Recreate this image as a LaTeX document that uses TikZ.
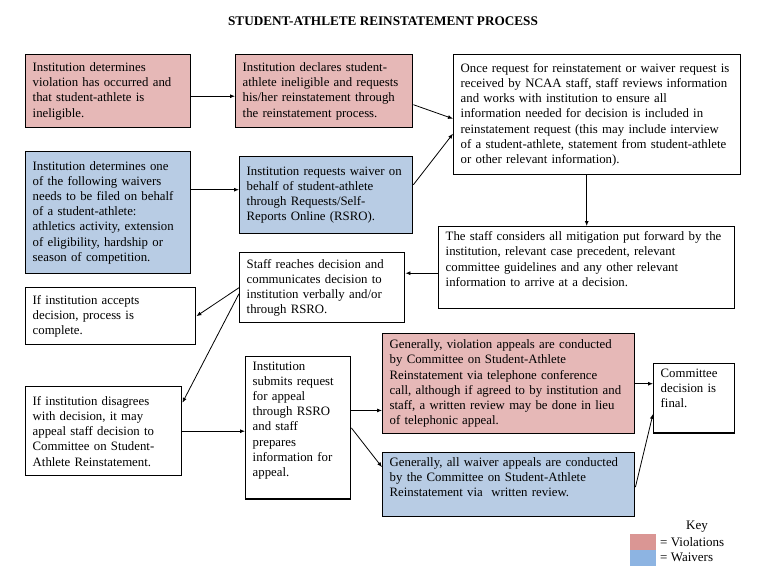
\documentclass[tikz,border=0pt]{standalone}
\usepackage{fontspec}
\setmainfont{Liberation Serif}
\usepackage{xcolor}
\usepackage{tikz}
\usetikzlibrary{arrows.meta,calc}
\definecolor{ViolPink}{HTML}{E6B8B7}
\definecolor{WaivBlue}{HTML}{B8CCE4}
\definecolor{KeyPink}{HTML}{DA9694}
\definecolor{KeyBlue}{HTML}{8DB4E2}

\begin{document}
\begin{tikzpicture}[
  x=1pt, y=-1pt,
  box/.style={draw=black, line width=1.4pt, anchor=north west, align=left, inner xsep=7pt, inner ysep=5pt,
    font=\fontsize{12.8}{15.2}\selectfont},
  viol/.style={box, fill=ViolPink},
  waiv/.style={box, fill=WaivBlue},
  plain/.style={box, fill=white},
  keytext/.style={anchor=west, inner sep=1pt, font=\fontsize{13}{14}\selectfont},
  arrow/.style={-{Latex[length=5pt, width=4pt]}, line width=0.8pt, draw=black}
]
\useasboundingbox (0,0) rectangle (768,586);
\node[font=\bfseries\fontsize{13.2}{15}\selectfont] (title) at (383,21) {STUDENT-ATHLETE REINSTATEMENT PROCESS};
% violations and waivers
\node[viol, text width=151pt, minimum height=73pt] (viol1) at (25,54) {Institution determines\\violation has occurred and\\that student-athlete is\\ineligible.};
\node[viol, text width=163pt, minimum height=73pt] (viol2) at (235,54) {Institution declares student-\\athlete ineligible and requests\\his/her reinstatement through\\the reinstatement process.};
\node[waiv, text width=151pt, minimum height=122pt] (waiv1) at (25,151) {Institution determines one\\of the following waivers\\needs to be filed on behalf\\of a student-athlete:\\athletics activity, extension\\of eligibility, hardship or\\season of competition.};
\node[waiv, text width=159pt, minimum height=77pt] (waiv2) at (239,156) {Institution requests waiver on\\behalf of student-athlete\\through Requests/Self-\\Reports Online (RSRO).};
% staff review
\node[plain, text width=273pt, minimum height=120pt] (ncaa) at (453,54) {Once request for reinstatement or waiver request is\\received by NCAA staff, staff reviews information\\and works with institution to ensure all\\information needed for decision is included in\\reinstatement request (this may include interview\\of a student-athlete, statement from student-athlete\\or other relevant information).};
\node[plain, text width=282pt, text depth=63pt] (staffcons) at (438,226) {The staff considers all mitigation put forward by the\\institution, relevant case precedent, relevant\\committee guidelines and any other relevant\\information to arrive at a decision.};
\node[plain, text width=151pt, minimum height=70pt] (staffreach) at (239,252) {Staff reaches decision and\\communicates decision to\\institution verbally and/or\\through RSRO.};
% decision outcomes
\node[plain, text width=156pt, minimum height=57pt] (accept) at (25,287) {If institution accepts\\decision, process is\\complete.};
\node[plain, text width=142pt, minimum height=89pt] (disagree) at (25,386) {If institution disagrees\\with decision, it may\\appeal staff decision to\\Committee on Student-\\Athlete Reinstatement.};
\node[plain, text width=91pt, text depth=124pt] (submit) at (245,356) {Institution\\submits request\\for appeal\\through RSRO\\and staff\\prepares\\information for\\appeal.};
% appeals
\node[viol, text width=238pt, minimum height=100pt] (violappeal) at (382,333) {Generally, violation appeals are conducted\\by Committee on Student-Athlete\\Reinstatement via telephone conference\\call, although if agreed to by institution and\\staff, a written review may be done in lieu\\of telephonic appeal.};
\node[waiv, text width=238pt, text depth=45pt] (waivappeal) at (382,452) {Generally, all waiver appeals are conducted\\by the Committee on Student-Athlete\\Reinstatement via\ \ written review.};
\node[plain, text width=67pt, text depth=51pt] (final) at (653,363) {Committee\\decision is\\final.};
% key
\node[font=\fontsize{13}{14}\selectfont] (key) at (697,527) {Key};
\fill[KeyPink] (630,534) rectangle (656,550);
\fill[KeyBlue] (630,550) rectangle (656,566);
\node[keytext] (keyviol) at (659,542) {= Violations};
\node[keytext] (keywaiv) at (659,557) {= Waivers};
% connectors
\draw[arrow] ([yshift=-5pt]viol1.east) -- ([yshift=-5pt]viol1.east -| viol2.west);
\draw[arrow] ([yshift=23pt]waiv1.east) -- ([yshift=23pt]waiv1.east -| waiv2.west);
\draw[arrow] ([yshift=-13.5pt]viol2.east) -- ([yshift=-4pt]ncaa.west);
\draw[arrow] ([yshift=10.5pt]waiv2.east) -- ([yshift=-19pt]ncaa.west);
\draw[arrow] (ncaa.south -| staffcons.north) -- (staffcons.north);
\draw[arrow] ([yshift=-5.5pt]staffcons.west) -- ([yshift=-5.5pt]staffcons.west -| staffreach.east);
\draw[arrow] (staffreach.west) -- (accept.east);
\draw[arrow] ([yshift=-6pt]staffreach.west) -- ([yshift=28.5pt]disagree.east);
\draw[arrow] (disagree.east) -- (disagree.east -| submit.west);
\draw[arrow] ([yshift=17.5pt]submit.east) -- ([yshift=17.5pt]submit.east -| violappeal.west);
\draw[arrow] (submit.east) -- ([yshift=17.5pt]waivappeal.west);
\draw[arrow] (violappeal.east) -- (violappeal.east -| final.west);
\draw[arrow] ([yshift=-2.5pt]waivappeal.east) -- ([yshift=-15.5pt]final.west);
\end{tikzpicture}
\end{document}
